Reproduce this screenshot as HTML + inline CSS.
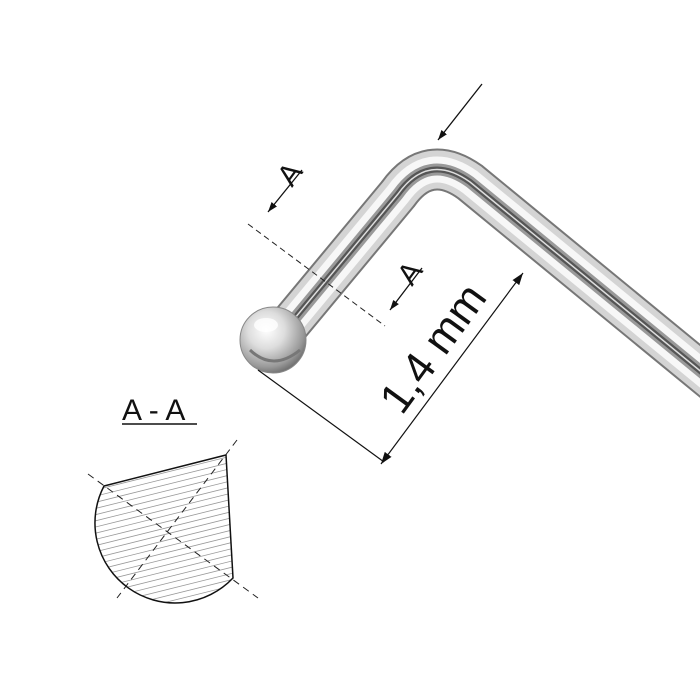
<!DOCTYPE html>
<html><head><meta charset="utf-8"><style>
html,body{margin:0;padding:0;background:#fff;}
svg{display:block;}
</style></head><body>
<svg width="700" height="700" viewBox="0 0 700 700" xmlns="http://www.w3.org/2000/svg" font-family="'Liberation Sans', Arial, sans-serif">
<defs>
<marker id="ar" viewBox="0 0 10 10" refX="10" refY="5" markerWidth="10" markerHeight="10" orient="auto" markerUnits="userSpaceOnUse">
<path d="M0,1.5 L10,5 L0,8.5 Z" fill="#111"/></marker>
<marker id="ar2" viewBox="0 0 10 10" refX="10" refY="5" markerWidth="12" markerHeight="12" orient="auto-start-reverse" markerUnits="userSpaceOnUse">
<path d="M0,1.5 L10,5 L0,8.5 Z" fill="#111"/></marker>
<clipPath id="sec"><path d="M104,486 L226,455 L233,578 A80,80 0 0 1 104,486 Z"/></clipPath>
<radialGradient id="ball" cx="0.4" cy="0.35" r="0.7">
<stop offset="0" stop-color="#fff"/><stop offset="0.4" stop-color="#ddd"/><stop offset="0.8" stop-color="#999"/><stop offset="1" stop-color="#666"/></radialGradient>
</defs>

<g fill="none" stroke-linecap="butt" stroke-linejoin="round">
<path d="M285,330 L398,194 Q428,152 470,182 L760,420" stroke="#777" stroke-width="42"/>
<path d="M285,330 L398,194 Q428,152 470,182 L760,420" stroke="#d4d4d4" stroke-width="38"/>
<path d="M285,330 L398,194 Q428,152 470,182 L760,420" stroke="#f7f7f7" stroke-width="26"/>
<path d="M285,330 L398,194 Q428,152 470,182 L760,420" stroke="#999" stroke-width="12"/>
<path d="M285,330 L398,194 Q428,152 470,182 L760,420" stroke="#555" stroke-width="6"/>
<path d="M285,330 L398,194 Q428,152 470,182 L760,420" stroke="#ddd" stroke-width="1.5"/>
</g>
<circle cx="273" cy="340" r="33" fill="url(#ball)" stroke="#888" stroke-width="1"/>
<ellipse cx="266" cy="325" rx="12" ry="7" fill="#fff" opacity="0.8"/>
<path d="M250,350 Q273,372 300,350" stroke="#777" stroke-width="3" fill="none"/>

<line x1="248" y1="224" x2="385" y2="326" stroke="#222" stroke-width="1" stroke-dasharray="6,4"/>
<line x1="302" y1="170" x2="268" y2="212" stroke="#111" stroke-width="1.3" marker-end="url(#ar)"/>
<text x="0" y="0" font-size="30" fill="#111" transform="translate(292,188) rotate(-54)">A</text>
<line x1="422" y1="268" x2="390" y2="310" stroke="#111" stroke-width="1.3" marker-end="url(#ar)"/>
<text x="0" y="0" font-size="30" fill="#111" transform="translate(412,287) rotate(-54)">A</text>
<line x1="482" y1="84" x2="438" y2="140" stroke="#111" stroke-width="1.3" marker-end="url(#ar)"/>

<line x1="258" y1="370" x2="384" y2="462" stroke="#111" stroke-width="1.2"/>
<line x1="381" y1="464" x2="523" y2="273" stroke="#111" stroke-width="1.2" marker-start="url(#ar2)" marker-end="url(#ar2)"/>
<text x="0" y="0" font-size="44" fill="#111" text-anchor="middle" transform="translate(445,357) rotate(-54)">1,4 mm</text>

<text x="122" y="420" font-size="30" fill="#111">A - A</text>
<line x1="122" y1="424" x2="197" y2="424" stroke="#111" stroke-width="1.5"/>
<g clip-path="url(#sec)" stroke="#999" stroke-width="0.8">
<g transform="rotate(-14 165 520)">
<line x1="40" y1="420" x2="300" y2="420"/><line x1="40" y1="426" x2="300" y2="426"/><line x1="40" y1="432" x2="300" y2="432"/><line x1="40" y1="438" x2="300" y2="438"/><line x1="40" y1="444" x2="300" y2="444"/><line x1="40" y1="450" x2="300" y2="450"/><line x1="40" y1="456" x2="300" y2="456"/><line x1="40" y1="462" x2="300" y2="462"/><line x1="40" y1="468" x2="300" y2="468"/><line x1="40" y1="474" x2="300" y2="474"/><line x1="40" y1="480" x2="300" y2="480"/><line x1="40" y1="486" x2="300" y2="486"/><line x1="40" y1="492" x2="300" y2="492"/><line x1="40" y1="498" x2="300" y2="498"/><line x1="40" y1="504" x2="300" y2="504"/><line x1="40" y1="510" x2="300" y2="510"/><line x1="40" y1="516" x2="300" y2="516"/><line x1="40" y1="522" x2="300" y2="522"/><line x1="40" y1="528" x2="300" y2="528"/><line x1="40" y1="534" x2="300" y2="534"/><line x1="40" y1="540" x2="300" y2="540"/><line x1="40" y1="546" x2="300" y2="546"/><line x1="40" y1="552" x2="300" y2="552"/><line x1="40" y1="558" x2="300" y2="558"/><line x1="40" y1="564" x2="300" y2="564"/><line x1="40" y1="570" x2="300" y2="570"/><line x1="40" y1="576" x2="300" y2="576"/><line x1="40" y1="582" x2="300" y2="582"/><line x1="40" y1="588" x2="300" y2="588"/><line x1="40" y1="594" x2="300" y2="594"/><line x1="40" y1="600" x2="300" y2="600"/><line x1="40" y1="606" x2="300" y2="606"/><line x1="40" y1="612" x2="300" y2="612"/><line x1="40" y1="618" x2="300" y2="618"/>
</g></g>
<path d="M104,486 L226,455 L233,578 A80,80 0 0 1 104,486 Z" fill="none" stroke="#111" stroke-width="1.5"/>
<line x1="88" y1="474" x2="258" y2="598" stroke="#222" stroke-width="1" stroke-dasharray="7,5"/>
<line x1="237" y1="440" x2="117" y2="598" stroke="#222" stroke-width="1" stroke-dasharray="7,5"/>
</svg>
</body></html>
